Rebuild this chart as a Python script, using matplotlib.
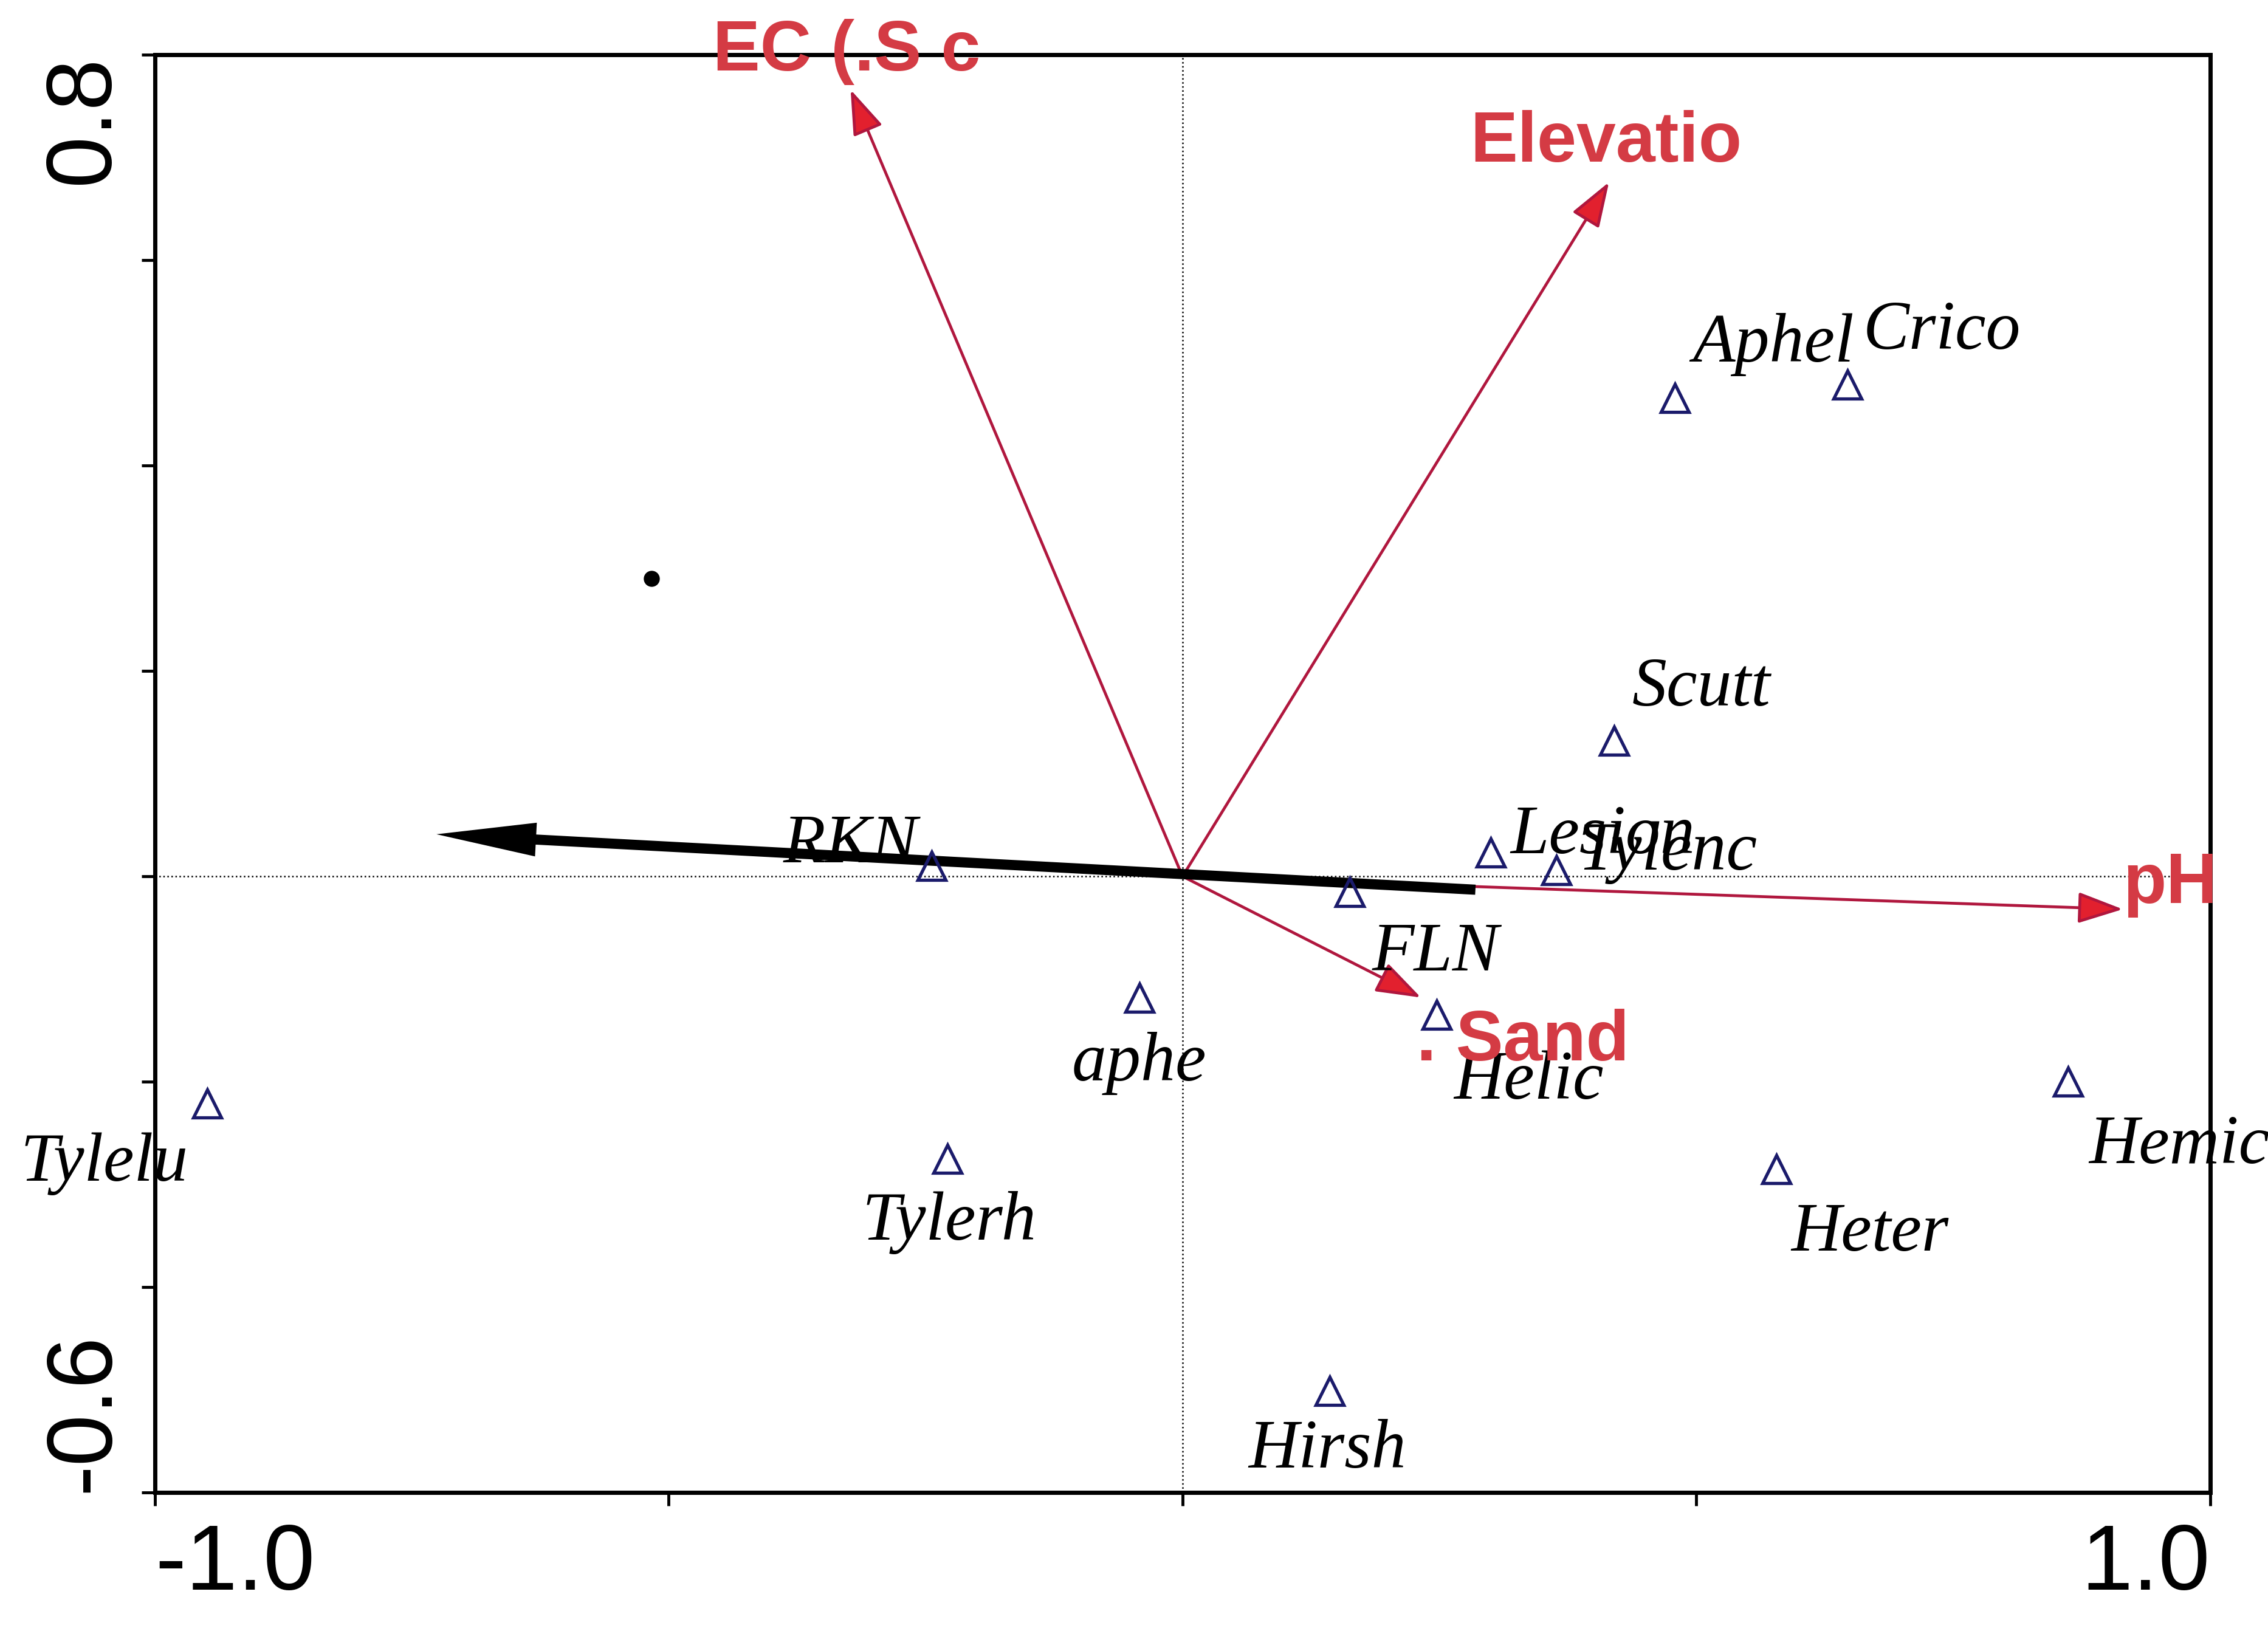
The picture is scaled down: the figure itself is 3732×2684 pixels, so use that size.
import matplotlib
matplotlib.use("Agg")
import matplotlib.pyplot as plt
from matplotlib.patches import FancyArrowPatch
import numpy as np

# species scores (triangles)
species = ['Aphel', 'Crico', 'Scutt', 'Lesion', 'Tylenc', 'FLN', 'RKN',
           'aphe', 'Helic', 'Tylelu', 'Tylerh', 'Heter', 'Hemic', 'Hirsh']
sp_x = [0.479, 0.647, 0.420, 0.300, 0.364, 0.163, -0.244,
        -0.042, 0.247, -0.949, -0.229, 0.578, 0.862, 0.143]
sp_y = [0.466, 0.479, 0.132, 0.023, 0.006, -0.015, 0.010,
        -0.118, -0.135, -0.221, -0.275, -0.285, -0.200, -0.501]
# label offsets from the triangles
sp_dx = [0.096, 0.092, 0.085, 0.109, 0.108, 0.083, -0.079,
         0.0, 0.090, -0.100, 0.002, 0.091, 0.108, -0.002]
sp_dy = [0.052, 0.051, 0.051, 0.016, 0.017, -0.060, 0.020,
         -0.064, -0.065, -0.059, -0.062, -0.063, -0.063, -0.058]

# environmental variables (red arrows)
env = ['EC (.S c', 'Elevatio', 'pH', '. Sand']
env_x = [-0.323, 0.415, 0.915, 0.232]
env_y = [0.766, 0.676, -0.032, -0.118]
env_lx = [-0.327, 0.412, 0.961, 0.331]
env_ly = [0.803, 0.714, -0.008, -0.161]

# black supplementary arrow and point
blk_from = (0.285, -0.013)
blk_to = (-0.726, 0.041)
dot_x, dot_y = -0.517, 0.290

fig = plt.figure(figsize=(37.32, 26.84), dpi=100)
ax = fig.add_axes([0.0683, 0.0849, 0.9062, 0.8815])
ax.set_xlim(-1.0, 1.0)
ax.set_ylim(-0.6, 0.8)

ax.axhline(0, color='black', linestyle=':', linewidth=1.8, zorder=1)
ax.axvline(0, color='black', linestyle=':', linewidth=1.8, zorder=1)

# red arrows
for x, y in zip(env_x, env_y):
    arr = FancyArrowPatch((0, 0), (x, y), arrowstyle='-|>,head_length=46,head_width=16',
                          mutation_scale=1, shrinkA=0, shrinkB=0,
                          edgecolor='#b0173e', facecolor='#e2202e', linewidth=3.4, zorder=3)
    ax.add_patch(arr)

# black arrow
barr = FancyArrowPatch(blk_from, blk_to, arrowstyle='simple,head_length=118,head_width=40,tail_width=12',
                       mutation_scale=1, shrinkA=0, shrinkB=0,
                       color='black', linewidth=0, zorder=4)
ax.add_patch(barr)
ax.plot([dot_x], [dot_y], 'o', color='black', markersize=18, zorder=4)

ax.plot(sp_x, sp_y, linestyle='none', marker='^', markersize=33, markerfacecolor='none',
        markeredgecolor='#1b1b6b', markeredgewidth=3.8, zorder=5)

for name, x, y, dx, dy in zip(species, sp_x, sp_y, sp_dx, sp_dy):
    ax.text(x + dx, y + dy, name, family='Liberation Serif', style='italic', fontsize=82,
            ha='center', va='center', color='black', zorder=6)

for name, x, y in zip(env, env_lx, env_ly):
    ax.text(x, y, name, family='Liberation Sans', fontweight='bold', fontsize=84,
            ha='center', va='center', color='#d43b44', zorder=7, clip_on=False)

ax.set_xticks([-1.0, -0.5, 0.0, 0.5, 1.0])
ax.set_xticklabels(['-1.0', '', '', '', '1.0'])
ax.set_yticks([-0.6, -0.4, -0.2, 0.0, 0.2, 0.4, 0.6, 0.8])
ax.set_yticklabels(['-0.6', '', '', '', '', '', '', '0.8'], rotation=90)
ax.tick_params(axis='x', direction='out', length=16, width=3.5, labelsize=110, pad=20)
ax.tick_params(axis='y', direction='out', length=16, width=3.5, labelsize=110, pad=16)
for lab in ax.get_xticklabels() + ax.get_yticklabels():
    lab.set_family('Liberation Sans')
xl = ax.get_xticklabels()
xl[0].set_ha('left')
xl[-1].set_ha('right')
yl = ax.get_yticklabels()
yl[0].set_va('bottom')
yl[-1].set_va('top')

for s in ax.spines.values():
    s.set_linewidth(5)

fig.savefig('out.png', dpi=100)
